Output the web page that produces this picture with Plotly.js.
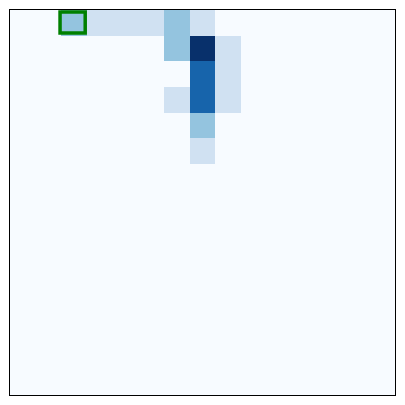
<!DOCTYPE html>
<html>
<head>
<meta charset="utf-8">
<script src="https://cdn.plot.ly/plotly-3.0.1.min.js"></script>
<style>html,body{margin:0;padding:0;background:#fff;}#chart{width:405px;height:405px;}</style>
</head>
<body>
<div id="chart"></div>
<script>
// Grid size
const nRows = 15;
const nCols = 15;
// Non-zero cells (row index from top, column index from left, value)
const cellRows = [0, 0, 0, 0, 0, 0, 1, 1, 1, 2, 2, 3, 3, 3, 4, 5];
const cellCols = [2, 3, 4, 5, 6, 7, 6, 7, 8, 7, 8, 6, 7, 8, 7, 7];
const cellVals = [2, 1, 1, 1, 2, 1, 2, 5, 1, 4, 1, 1, 4, 1, 2, 1];
// Highlighted cell
const highlightRow = 0;
const highlightCol = 2;

const z = [];
for (let r = 0; r < nRows; r++) { z.push(new Array(nCols).fill(0)); }
for (let i = 0; i < cellVals.length; i++) { z[cellRows[i]][cellCols[i]] = cellVals[i]; }

const blues = [
  [0.0, '#f7fbff'], [0.125, '#deebf7'], [0.25, '#c6dbef'], [0.375, '#9ecae1'],
  [0.5, '#6baed6'], [0.625, '#4292c6'], [0.75, '#2171b5'], [0.875, '#08519c'], [1.0, '#08306b']
];

const trace = {
  type: 'heatmap',
  z: z,
  colorscale: blues,
  zmin: 0,
  zmax: 5,
  showscale: false,
  hoverinfo: 'skip'
};

const axisCommon = {
  showgrid: false, zeroline: false, showticklabels: false, ticks: '',
  showline: true, mirror: true, linecolor: '#000', linewidth: 1.2
};

const layout = {
  width: 405, height: 405,
  margin: {l: 10, r: 10, t: 10, b: 10, pad: 0},
  paper_bgcolor: '#fff', plot_bgcolor: '#fff',
  xaxis: Object.assign({range: [-0.5, nCols - 0.5]}, axisCommon),
  yaxis: Object.assign({range: [nRows - 0.5, -0.5]}, axisCommon),
  shapes: [{
    type: 'rect', xref: 'x', yref: 'y',
    x0: highlightCol - 0.55, x1: highlightCol + 0.43,
    y0: highlightRow - 0.42, y1: highlightRow + 0.4,
    line: {color: '#008000', width: 3.5}
  }]
};

Plotly.newPlot('chart', [trace], layout, {displayModeBar: false, staticPlot: true});
</script>
</body>
</html>
